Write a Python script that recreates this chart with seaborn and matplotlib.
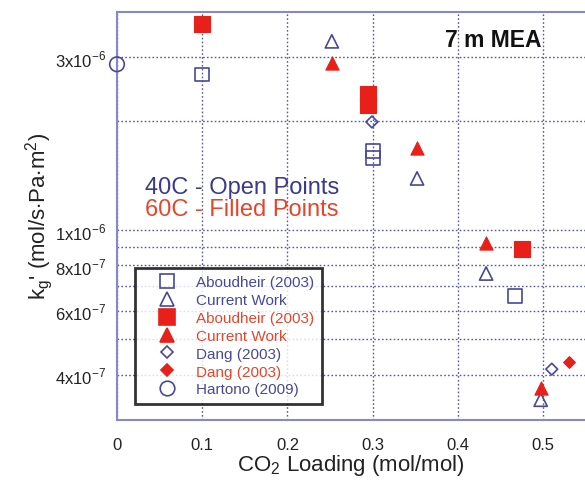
import numpy as np
import pandas as pd
import matplotlib
matplotlib.use('Agg')
import matplotlib.pyplot as plt
import matplotlib.ticker as mticker
import seaborn as sns

# datos
abou40_x = [0.10, 0.30, 0.30, 0.467]
abou40_y = [2.69e-6, 1.58e-6, 1.65e-6, 6.6e-7]
cw40_x = [0.252, 0.352, 0.433, 0.497]
cw40_y = [3.32e-6, 1.39e-6, 7.6e-7, 3.41e-7]
abou60_x = [0.10, 0.294, 0.294, 0.475]
abou60_y = [3.7e-6, 2.38e-6, 2.22e-6, 8.9e-7]
cw60_x = [0.252, 0.352, 0.433, 0.497]
cw60_y = [2.9e-6, 1.69e-6, 9.2e-7, 3.68e-7]
dang40_x = [0.299, 0.51]
dang40_y = [1.99e-6, 4.14e-7]
dang60_x = [0.53]
dang60_y = [4.33e-7]
hart_x = [0.0]
hart_y = [2.87e-6]

x_ticks = [0, 0.1, 0.2, 0.3, 0.4, 0.5]
x_labels = ['0', '0.1', '0.2', '0.3', '0.4', '0.5']
y_ticks = [4e-7, 6e-7, 8e-7, 1e-6, 3e-6]
y_labels = [r'4x10$^{-7}$', r'6x10$^{-7}$', r'8x10$^{-7}$', r'1x10$^{-6}$', r'3x10$^{-6}$']
y_minor = [5e-7, 7e-7, 9e-7, 2e-6]

azul = '#48489a'
rojo = '#e8201a'
rojo_txt = '#e4462c'

series = [
    ('Aboudheir (2003)', abou40_x, abou40_y, 's', False, azul, 10),
    ('Current Work', cw40_x, cw40_y, '^', False, azul, 9.5),
    ('Aboudheir (2003)', abou60_x, abou60_y, 's', True, rojo, 11),
    ('Current Work', cw60_x, cw60_y, '^', True, rojo, 9.5),
    ('Dang (2003)', dang40_x, dang40_y, 'D', False, azul, 6),
    ('Dang (2003)', dang60_x, dang60_y, 'D', True, rojo, 6),
    ('Hartono (2009)', hart_x, hart_y, 'o', False, azul, 10.5),
]

sns.set_style('white')
plt.rcParams['font.family'] = ['Liberation Sans', 'DejaVu Sans']
plt.rcParams['mathtext.fontset'] = 'custom'
plt.rcParams['mathtext.rm'] = 'Liberation Sans'

fig = plt.figure(figsize=(5.85, 4.81), dpi=100)
ax = fig.add_axes([0.2, 0.125, 0.8, 0.848])

handles = []
for nombre, xs, ys, mk, lleno, col, ms in series:
    df = pd.DataFrame({'x': xs, 'y': ys})
    if lleno:
        sns.scatterplot(data=df, x='x', y='y', marker=mk, color=col, edgecolor=col,
                        s=ms ** 2, linewidth=0.8, ax=ax, zorder=3, clip_on=False)
    else:
        sns.scatterplot(data=df, x='x', y='y', marker=mk, facecolor='none', edgecolor=col,
                        s=ms ** 2, linewidth=1.2, ax=ax, zorder=3, clip_on=False)
    h = plt.Line2D([], [], linestyle='none', marker=mk, markersize=ms,
                   markerfacecolor=col if lleno else 'none', markeredgecolor=col,
                   markeredgewidth=1.2)
    handles.append((h, nombre, rojo_txt if lleno else azul))

ax.set_yscale('log')
ax.set_xlim(0, 0.549)
ax.set_ylim(3e-7, 4e-6)

ax.xaxis.set_major_locator(mticker.FixedLocator(x_ticks))
ax.xaxis.set_major_formatter(mticker.FixedFormatter(x_labels))
ax.yaxis.set_major_locator(mticker.FixedLocator(y_ticks))
ax.yaxis.set_major_formatter(mticker.FixedFormatter(y_labels))
ax.yaxis.set_minor_locator(mticker.FixedLocator(y_minor))
ax.yaxis.set_minor_formatter(mticker.NullFormatter())

ax.tick_params(axis='both', which='both', direction='in', colors='#7070b8',
               labelcolor='#222222', labelsize=12, length=7, width=1.2)
ax.tick_params(axis='x', pad=12)
ax.tick_params(axis='y', pad=8)
ax.tick_params(axis='y', which='minor', length=0)

grid_kw = dict(color='#5858a8', linestyle=(0, (1.2, 1.6)), linewidth=1.0)
ax.grid(True, which='major', axis='both', **grid_kw)
ax.grid(True, which='minor', axis='y', **grid_kw)

for lado in ['left', 'bottom', 'top']:
    ax.spines[lado].set_color('#8888c8')
    ax.spines[lado].set_linewidth(1.5)
ax.spines['right'].set_visible(False)

ax.set_xlabel(r'CO$_2$ Loading (mol/mol)', fontsize=16, color='#222222', labelpad=0)
ax.set_ylabel(r"k$_{\rm g}$' (mol/s$\cdot$Pa$\cdot$m$^2$)", fontsize=16, color='#222222', labelpad=0)

ax.text(0.385, 3.22e-6, '7 m MEA', fontsize=16.5, fontweight='bold', color='#111111')
ax.text(0.033, 1.27e-6, '40C - Open Points', fontsize=17, color='#3a3a8c')
ax.text(0.033, 1.10e-6, '60C - Filled Points', fontsize=17, color=rojo_txt)

leg = ax.legend([h[0] for h in handles], [h[1] for h in handles],
                loc='lower left', bbox_to_anchor=(0.0375, 0.039, 0.40, 0.34),
                mode='expand', frameon=True, fancybox=False, fontsize=11,
                handlelength=3.2, handletextpad=0.35, borderpad=0.5,
                labelspacing=0.25, borderaxespad=0)
leg.get_frame().set_edgecolor('black')
leg.get_frame().set_linewidth(2)
for txt, h in zip(leg.get_texts(), handles):
    txt.set_color(h[2])

fig.savefig('out.png', dpi=100)
